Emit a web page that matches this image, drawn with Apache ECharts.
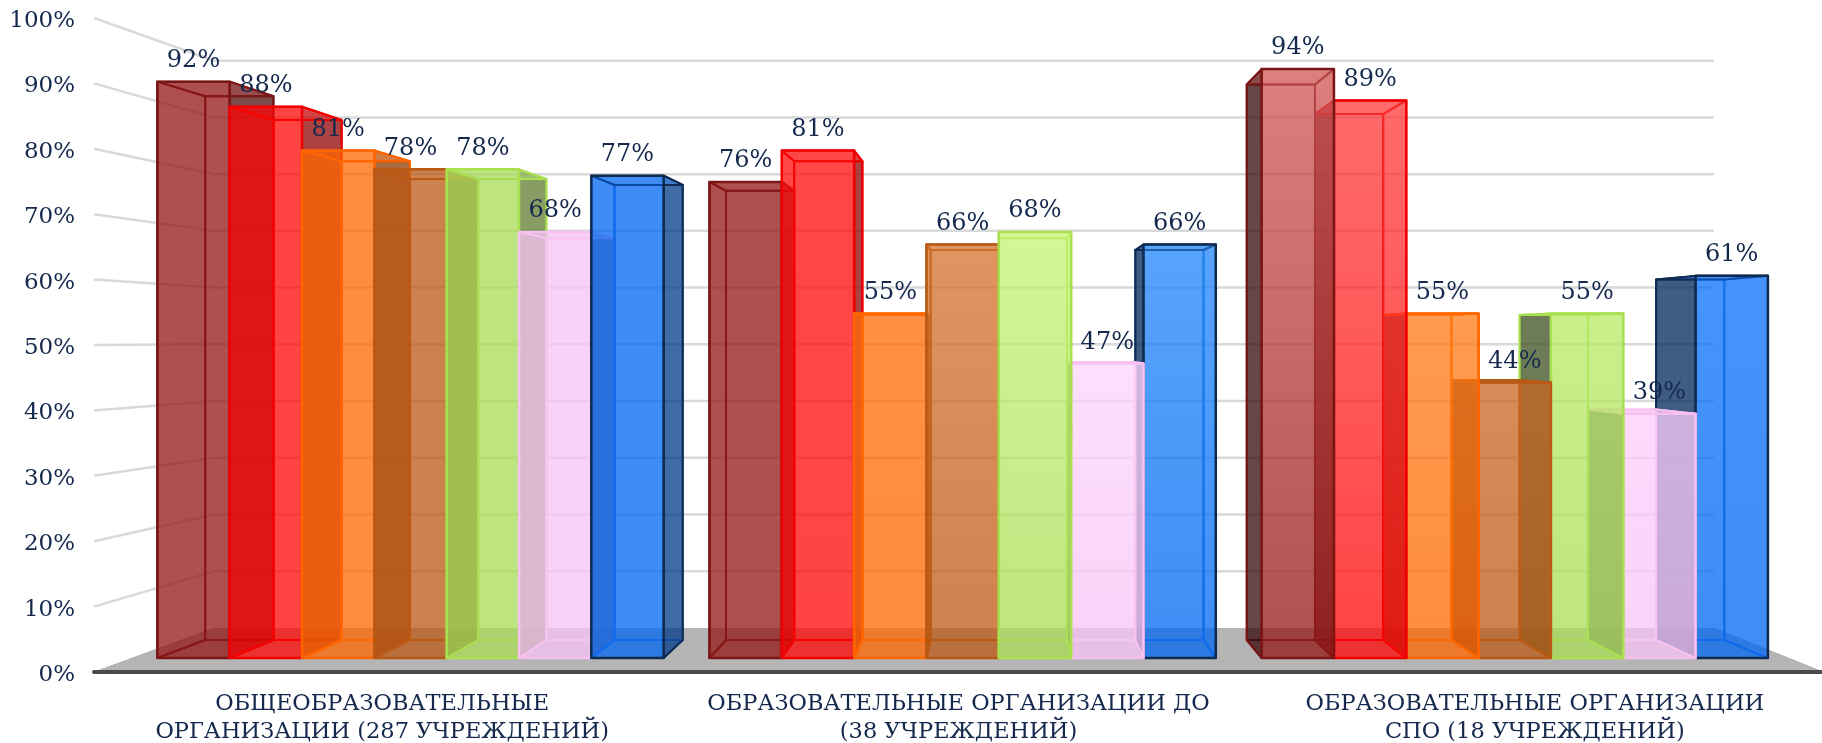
<!DOCTYPE html>
<html>
<head>
<meta charset="utf-8">
<title>chart</title>
<style>
html, body { margin: 0; padding: 0; background: #fff; }
#main { width: 1822px; height: 743px; }
</style>
<script src="https://cdn.jsdelivr.net/npm/echarts@6/dist/echarts.min.js"></script>
</head>
<body>
<div id="main"></div>
<script>
const categories = [
    "ОБЩЕОБРАЗОВАТЕЛЬНЫЕ\nОРГАНИЗАЦИИ (287 УЧРЕЖДЕНИЙ)",
    "ОБРАЗОВАТЕЛЬНЫЕ ОРГАНИЗАЦИИ ДО\n(38 УЧРЕЖДЕНИЙ)",
    "ОБРАЗОВАТЕЛЬНЫЕ ОРГАНИЗАЦИИ\nСПО (18 УЧРЕЖДЕНИЙ)"
];
const series1 = [92, 76, 94];
const series2 = [88, 81, 89];
const series3 = [81, 55, 55];
const series4 = [78, 66, 44];
const series5 = [78, 68, 55];
const series6 = [68, 47, 39];
const series7 = [77, 66, 61];
const allSeries = [series1, series2, series3, series4, series5, series6, series7];
const gridValues = [10, 20, 30, 40, 50, 60, 70, 80, 90, 100];

// styles
const baseColors = ["#931616", "#ff0505", "#ff6600", "#bb5814", "#a8dc56", "#f8c3f5", "#0066f2"];
const edgeColors = ["#7b1616", "#f00000", "#ff6600", "#b85a14", "#a8e050", "#f8c0f0", "#0f2a50"];
const innerEdgeColors = ["#7b1616", "#e80000", "#ff6a00", "#b85a14", "#a8e050", "#f8c0f0", "#1d6fe0"];
// how much lighter the top of the front face gets, per category
const topLift = [
    [0, 0, 0, 0, 0, 0, 0],
    [0, 8, 8, 38, 44, 25, 48],
    [94, 77, 30, 20, 22, 15, 14]
];
const textColor = "#14294d";
const fontName = "'DejaVu Serif'";

// perspective of the fake 3D box
const VP = [1000, 340];
const S_WALL = 0.8675;
const S_FRONT = 0.958;
const S_BACK = 0.9036;
const BAR_SHARE = 0.131;
const BAR_SHIFT = 2.5;

const project = (x, y, s) => [VP[0] + s * (x - VP[0]), VP[1] + s * (y - VP[1])];

const hexRgb = c => [parseInt(c.slice(1, 3), 16), parseInt(c.slice(3, 5), 16), parseInt(c.slice(5, 7), 16)];
const rgba = (rgb, a) => `rgba(${rgb.map(v => Math.max(0, Math.min(255, Math.round(v)))).join(",")},${a})`;

const poly = (points, fill, stroke, lineWidth, z2) => ({
    type: "polygon",
    z2,
    shape: { points },
    style: { fill, stroke, lineWidth, lineJoin: "round" }
});

const renderBar = (params, api) => {
    const idx = params.seriesIndex - 1;
    const cat = api.value(0);
    const bottom = api.coord([cat, 0]);
    const top = api.coord([cat, api.value(1)]);
    const w = api.size([1, 0])[0] * BAR_SHARE;
    const xl = bottom[0] + (idx - 3.5) * w + BAR_SHIFT;
    const xr = xl + w;
    const rgb = hexRgb(baseColors[idx]);
    const a = 0.5;
    const fill = rgba(rgb, a);

    const ftl = project(xl, top[1], S_FRONT);
    const ftr = project(xr, top[1], S_FRONT);
    const fbl = project(xl, bottom[1], S_FRONT);
    const fbr = project(xr, bottom[1], S_FRONT);
    const btl = project(xl, top[1], S_BACK);
    const btr = project(xr, top[1], S_BACK);
    const bbl = project(xl, bottom[1], S_BACK);
    const bbr = project(xr, bottom[1], S_BACK);

    const inner = innerEdgeColors[idx];
    const edge = edgeColors[idx];
    // the side sticking out past the front face is shaded, the one seen through it is not
    const leftOuter = btl[0] < ftl[0];
    const rightOuter = btr[0] > ftr[0];
    const leftFill = leftOuter ? rgba(rgb.map(v => v * 0.05), a) : fill;
    const rightFill = rightOuter ? rgba(rgb.map(v => v * 0.35), a) : fill;
    const lift = topLift[cat][idx];
    const frontFill = new echarts.graphic.LinearGradient(0, 0, 0, 1, [
        { offset: 0, color: rgba(rgb.map(v => v + lift), a) },
        { offset: 1, color: rgba(rgb, a) }
    ]);

    // bars nearer the vanishing point are painted over the outer ones
    const z2 = Math.round(2000 - Math.abs((xl + xr) / 2 - VP[0]));

    return {
        type: "group",
        children: [
            poly([btl, btr, bbr, bbl], fill, inner, 2, z2),
            poly([bbl, bbr, fbr, fbl], fill, inner, 2, z2),
            poly([ftl, btl, bbl, fbl], leftFill, leftOuter ? edge : inner, 2, z2),
            poly([ftr, btr, bbr, fbr], rightFill, rightOuter ? edge : inner, 2, z2),
            poly([ftl, ftr, btr, btl], fill, edge, 2, z2),
            poly([ftl, ftr, fbr, fbl], frontFill, edge, 2.5, z2)
        ]
    };
};

const renderFloor = (params, api) => {
    const cs = params.coordSys;
    const y0 = api.coord([0, 0])[1];
    const xr = cs.x + cs.width;
    return poly([[cs.x, y0], [xr, y0], project(xr, y0, S_WALL), project(cs.x, y0, S_WALL)], "#b5b5b5", "none", 0, 0);
};

const renderGridLine = (params, api) => {
    const cs = params.coordSys;
    const y = api.coord([0, api.value(0)])[1];
    const xr = cs.x + cs.width;
    return {
        type: "polyline",
        shape: { points: [[cs.x, y], project(cs.x, y, S_WALL), project(xr, y, S_WALL)] },
        style: { fill: "none", stroke: "#d9d9d9", lineWidth: 2.5 }
    };
};

const renderLabel = (params, api) => {
    const p = api.coord([api.value(0), api.value(1)]);
    const w = api.size([1, 0])[0] * BAR_SHARE;
    const pos = project(p[0] + (api.value(2) - 3) * w + BAR_SHIFT, p[1], S_FRONT);
    return {
        type: "text",
        x: pos[0],
        y: pos[1] - 21,
        style: {
            text: api.value(1) + "%",
            fill: textColor,
            font: `24px ${fontName}`,
            align: "center",
            verticalAlign: "middle"
        }
    };
};

const labelRows = [];
allSeries.forEach((values, s) => values.forEach((v, c) => labelRows.push([c, v, s])));

const chart = echarts.init(document.getElementById("main"), null, { renderer: "canvas" });
chart.setOption({
    animation: false,
    backgroundColor: "#fff",
    grid: { left: 94, top: 18, width: 1729, height: 654, outerBoundsMode: "none" },
    xAxis: {
        type: "category",
        data: categories,
        axisTick: { show: false },
        axisLine: { show: true, lineStyle: { color: "#4a4a4a", width: 4 } },
        axisLabel: {
            color: textColor,
            fontFamily: fontName,
            fontSize: 22.5,
            lineHeight: 28,
            margin: 18,
            interval: 0
        },
        z: 3
    },
    yAxis: {
        type: "value",
        min: 0,
        max: 100,
        interval: 10,
        axisLine: { show: false },
        axisTick: { show: false },
        splitLine: { show: false },
        axisLabel: {
            formatter: "{value}%",
            color: textColor,
            fontFamily: fontName,
            fontSize: 23,
            margin: 19,
            verticalAlign: "top",
            lineHeight: 6
        }
    },
    series: [
        {
            type: "custom",
            name: "walls",
            renderItem: (params, api) => ({
                type: "group",
                children: [renderFloor(params, api)].concat(renderGridLine(params, api))
            }),
            data: gridValues.map(v => [v]),
            encode: { y: 0 },
            silent: true,
            z: 1
        },
        ...allSeries.map(values => ({
            type: "custom",
            renderItem: renderBar,
            data: values.map((v, c) => [c, v]),
            encode: { x: 0, y: 1 },
            z: 2
        })),
        {
            type: "custom",
            name: "labels",
            renderItem: renderLabel,
            data: labelRows,
            encode: { x: 0, y: 1 },
            z: 5
        }
    ]
});
</script>
</body>
</html>
